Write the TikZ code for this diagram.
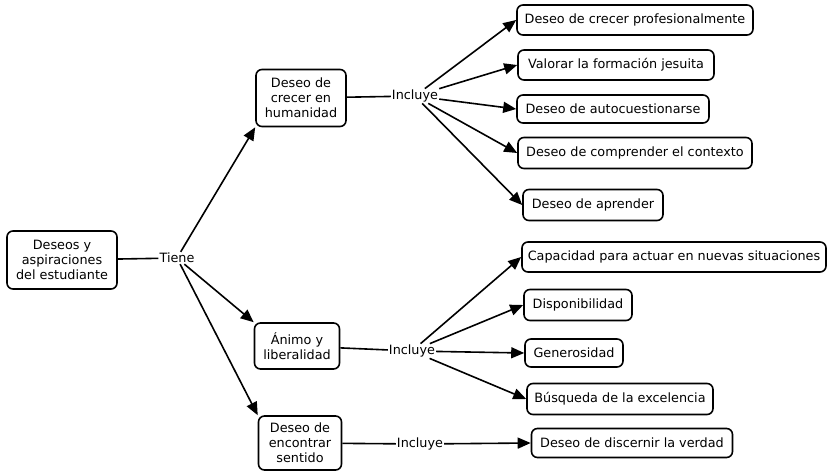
\documentclass[tikz,border=0pt]{standalone}
\usepackage{fontspec}
\setmainfont{DejaVu Sans}
\usetikzlibrary{arrows.meta}
\begin{document}
\begin{tikzpicture}[x=1pt,y=-1pt,
  box/.style 2 args={draw,line width=1.6pt,rounded corners=6pt,align=center,inner sep=1pt,minimum width=#1,minimum height=#2,font=\fontsize{12.8}{15}\selectfont},
  lab/.style={inner sep=1pt,fill=white,font=\fontsize{12.8}{15}\selectfont},
  ln/.style={line width=1.6pt},
  arr/.style={line width=1.6pt,-{Triangle[length=13pt,width=11pt]}}]
\useasboundingbox (0,0) rectangle (828,472);
\node[box={110pt}{58pt}] (root) at (62,260) {Deseos y\\aspiraciones\\del estudiante};
\node[lab] (tiene) at (177,258) {Tiene};
\node[box={90pt}{57pt}] (a) at (301,98) {Deseo de\\crecer en\\humanidad};
\node[box={85pt}{46pt}] (b) at (297,346) {Ánimo y\\liberalidad};
\node[box={83pt}{54pt}] (c) at (300,443) {Deseo de\\encontrar\\sentido};
\node[lab] (ia) at (415,96) {Incluye};
\node[lab] (ib) at (412,351) {Incluye};
\node[lab] (ic) at (420,444) {Incluye};
\node[box={236pt}{30pt}] (a1) at (635,20) {Deseo de crecer profesionalmente};
\node[box={196pt}{30pt}] (a2) at (616,65) {Valorar la formación jesuita};
\node[box={192pt}{28pt}] (a3) at (613,109) {Deseo de autocuestionarse};
\node[box={234pt}{31pt}] (a4) at (635,153) {Deseo de comprender el contexto};
\node[box={140pt}{31pt}] (a5) at (593,205) {Deseo de aprender};
\node[box={304pt}{30pt}] (b1) at (674,257) {Capacidad para actuar en nuevas situaciones};
\node[box={108pt}{31pt}] (b2) at (578,305) {Disponibilidad};
\node[box={98pt}{28pt}] (b3) at (574,353) {Generosidad};
\node[box={186pt}{31pt}] (b4) at (620,399) {Búsqueda de la excelencia};
\node[box={201pt}{29pt}] (c1) at (632,443) {Deseo de discernir la verdad};
\draw[ln] (root) -- (tiene);
\draw[arr] (tiene) -- (a.south west);
\draw[arr] (tiene) -- (b.north west);
\draw[arr] (tiene) -- (c.north west);
\draw[ln] (a) -- (ia);
\draw[ln] (b) -- (ib);
\draw[ln] (c) -- (ic);
\foreach \t in {a1,a2,a3,a4,a5} \draw[arr] (ia) -- (\t.west);
\foreach \t in {b1,b2,b3,b4} \draw[arr] (ib) -- (\t.west);
\draw[arr] (ic) -- (c1.west);
\end{tikzpicture}
\end{document}
